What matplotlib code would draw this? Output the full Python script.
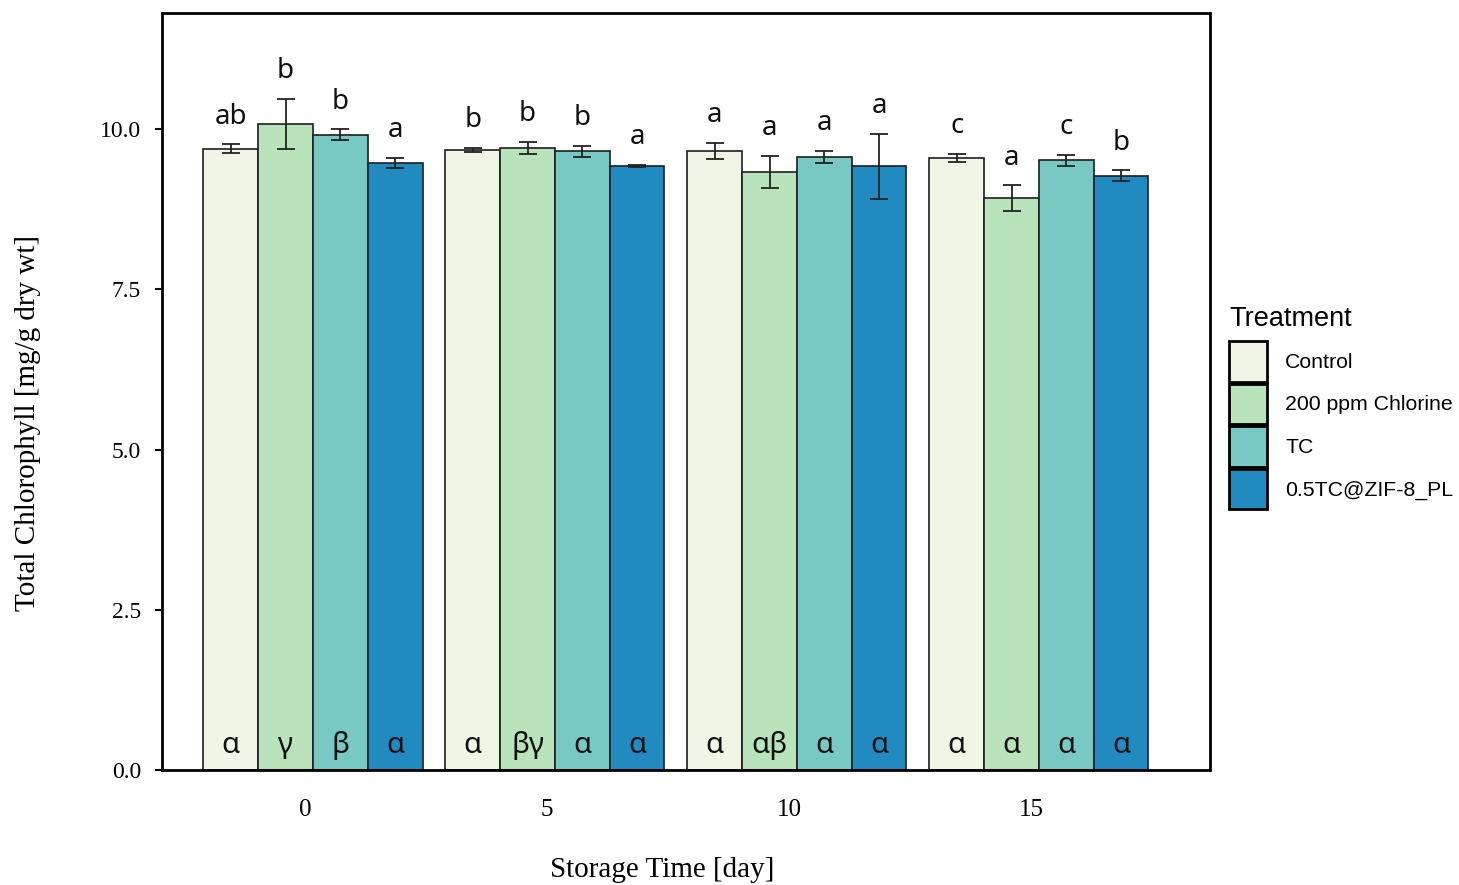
import matplotlib
matplotlib.use("Agg")
import matplotlib.pyplot as plt
import matplotlib.transforms as mtransforms
import numpy as np

# Storage days and treatments
days = ["0", "5", "10", "15"]
treatments = ["Control", "200 ppm Chlorine", "TC", "0.5TC@ZIF-8_PL"]
colors = ["#f0f5e6", "#b9e3bb", "#78c8c3", "#218ac0"]

# Total chlorophyll means (mg/g dry wt), one list per treatment, ordered by day
control = [9.69, 9.67, 9.66, 9.55]
chlorine = [10.08, 9.70, 9.33, 8.92]
tc = [9.91, 9.65, 9.57, 9.51]
zif = [9.47, 9.43, 9.42, 9.27]

# Standard deviations
control_sd = [0.07, 0.036, 0.125, 0.06]
chlorine_sd = [0.39, 0.094, 0.25, 0.20]
tc_sd = [0.083, 0.088, 0.094, 0.086]
zif_sd = [0.075, 0.015, 0.51, 0.083]

# Letters: comparison among treatments within a day (above bars)
control_top = ["ab", "b", "a", "c"]
chlorine_top = ["b", "b", "a", "a"]
tc_top = ["b", "b", "a", "c"]
zif_top = ["a", "a", "a", "b"]

# Letters: comparison across days within a treatment (inside bars)
control_bottom = ["α", "α", "α", "α"]
chlorine_bottom = ["γ", "βγ", "αβ", "α"]
tc_bottom = ["β", "α", "α", "α"]
zif_bottom = ["α", "α", "α", "α"]

yticks = [0.0, 2.5, 5.0, 7.5, 10.0]
ytick_labels = ["0.0", "2.5", "5.0", "7.5", "10.0"]

means = [control, chlorine, tc, zif]
sds = [control_sd, chlorine_sd, tc_sd, zif_sd]
tops = [control_top, chlorine_top, tc_top, zif_top]
bottoms = [control_bottom, chlorine_bottom, tc_bottom, zif_bottom]

serif = "Liberation Serif"
sans_letters = ["Noto Sans", "DejaVu Sans"]

fig = plt.figure(figsize=(14.59, 8.85), dpi=100)
ax = fig.add_axes([162 / 1459, 1 - 770 / 885, 1048 / 1459, 757 / 885])

x = np.arange(len(days))
width = 0.2263
for i, name in enumerate(treatments):
    pos = x + (i - 1.5) * width
    ax.bar(pos, means[i], width=width, color=colors[i], edgecolor="#1e1e1e",
           linewidth=1.2, label=name, zorder=2)
    ax.errorbar(pos, means[i], yerr=sds[i], fmt="none", ecolor="#222222",
                elinewidth=1.3, capsize=6.5, capthick=1.3, zorder=3)
    for j in range(len(days)):
        ax.annotate(tops[i][j], (pos[j], means[i][j] + sds[i][j]),
                    xytext=(0, 20), textcoords="offset points",
                    ha="center", va="center", fontsize=20,
                    family=sans_letters, color="#111111")
        ax.text(pos[j], 0.26, bottoms[i][j], ha="center", va="baseline",
                fontsize=21, family=sans_letters, color="#111111", zorder=4)

ax.set_xlim(-0.624, 3.707)
ax.set_ylim(0, 11.81)
ax.set_xticks(x)
ax.set_xticklabels(days, fontfamily=serif, fontsize=18)
ax.set_yticks(yticks)
ax.set_yticklabels(ytick_labels, fontfamily=serif, fontsize=17)
ax.tick_params(axis="x", length=0, pad=21)
ax.tick_params(axis="y", length=5, width=1.5, pad=10, direction="out")

# day labels sit slightly left of the bar-group centres
shift = mtransforms.ScaledTranslation(-8 / 100, 0, fig.dpi_scale_trans)
for lbl in ax.get_xticklabels():
    lbl.set_transform(lbl.get_transform() + shift)

for sp in ax.spines.values():
    sp.set_linewidth(2)
    sp.set_color("black")

ax.set_xlabel("Storage Time [day]", fontfamily=serif, fontsize=21)
ax.set_ylabel("Total Chlorophyll [mg/g dry wt]", fontfamily=serif, fontsize=21)
ax.xaxis.set_label_coords(0.477, -0.132)
ax.xaxis.label.set_va("center")
ax.yaxis.set_label_coords(-0.128, 0.458)
ax.yaxis.label.set_va("center")

leg = ax.legend(loc="upper left", bbox_to_anchor=(1229 / 1459, 1 - 306 / 885),
                bbox_transform=fig.transFigure, frameon=False,
                title="Treatment", alignment="left",
                prop={"family": "Liberation Sans", "size": 15.3},
                handlelength=1.8, handleheight=2.55, handletextpad=0.85,
                labelspacing=0.1, borderpad=0, borderaxespad=0)
leg.get_title().set_fontfamily("Liberation Sans")
leg.get_title().set_fontsize(19.5)
# extra room between the legend title and the first entry
leg._legend_box.sep = 6.6
for h in leg.legend_handles:
    h.set_edgecolor("black")
    h.set_linewidth(2)

fig.savefig("out.png", dpi=100)
